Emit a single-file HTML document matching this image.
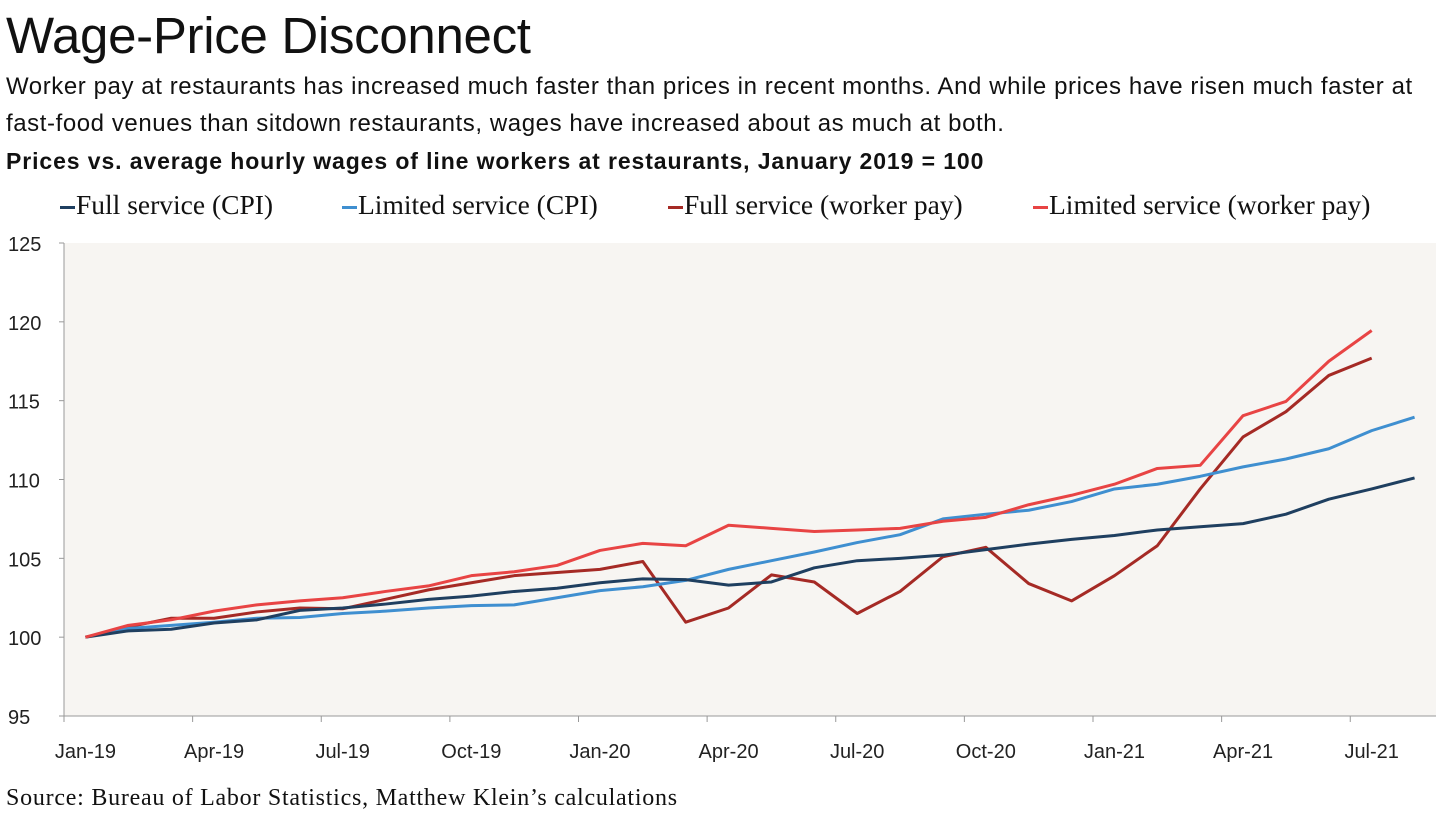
<!DOCTYPE html>
<html><head><meta charset="utf-8"><style>
body{margin:0;width:1456px;height:828px;background:#fff;overflow:hidden;font-family:"Liberation Sans",sans-serif;color:#111}
#title{position:absolute;left:6px;top:6px;font-size:51px;letter-spacing:-0.3px}
#sub{position:absolute;left:6px;top:68px;font-size:24px;line-height:37px;width:1450px;white-space:nowrap;letter-spacing:0.58px}
#ctitle{position:absolute;left:6px;top:148px;font-size:23px;font-weight:bold;letter-spacing:0.9px}
.leg{position:absolute;top:189px;font-family:"Liberation Serif",serif;font-size:27.5px}
.leg span{display:inline-block;width:15px;height:3px;vertical-align:middle;margin-right:1px}
#src{position:absolute;left:6px;top:785px;font-family:"Liberation Serif",serif;font-size:24px;letter-spacing:0.75px}
svg{position:absolute;left:0;top:0}
</style></head><body>
<div id="title">Wage-Price Disconnect</div>
<div id="sub">Worker pay at restaurants has increased much faster than prices in recent months. And while prices have risen much faster at<br>fast-food venues than sitdown restaurants, wages have increased about as much at both.</div>
<div id="ctitle">Prices vs. average hourly wages of line workers at restaurants, January 2019 = 100</div>
<div class="leg" style="left:60px"><span style="background:#1f3f60"></span>Full service (CPI)</div>
<div class="leg" style="left:342px"><span style="background:#3f8fd0"></span>Limited service (CPI)</div>
<div class="leg" style="left:668px"><span style="background:#a52a25"></span>Full service (worker pay)</div>
<div class="leg" style="left:1033px"><span style="background:#e84444"></span>Limited service (worker pay)</div>
<svg id="chart" width="1456" height="828"></svg>
<div id="src">Source: Bureau of Labor Statistics, Matthew Klein’s calculations</div>
<script>
const months=["Jan-19","Feb-19","Mar-19","Apr-19","May-19","Jun-19","Jul-19","Aug-19","Sep-19","Oct-19","Nov-19","Dec-19","Jan-20","Feb-20","Mar-20","Apr-20","May-20","Jun-20","Jul-20","Aug-20","Sep-20","Oct-20","Nov-20","Dec-20","Jan-21","Feb-21","Mar-21","Apr-21","May-21","Jun-21","Jul-21","Aug-21"];
const yTicks=[95,100,105,110,115,120,125];
const fullCPI=[100,100.4,100.5,100.9,101.1,101.7,101.85,102.1,102.4,102.6,102.9,103.1,103.45,103.7,103.65,103.3,103.5,104.4,104.85,105.0,105.2,105.55,105.9,106.2,106.45,106.8,107.0,107.2,107.8,108.75,109.4,110.1];
const limCPI=[100,100.55,100.75,100.95,101.2,101.25,101.5,101.65,101.85,102.0,102.05,102.5,102.95,103.2,103.6,104.3,104.85,105.4,106.0,106.5,107.5,107.8,108.05,108.6,109.4,109.7,110.2,110.8,111.3,111.95,113.1,113.95];
const fullPay=[100,100.65,101.2,101.2,101.6,101.85,101.8,102.4,103.0,103.45,103.9,104.1,104.3,104.8,100.95,101.85,103.95,103.5,101.5,102.9,105.1,105.7,103.4,102.3,103.9,105.8,109.4,112.7,114.3,116.6,117.7];
const limPay=[100,100.75,101.1,101.65,102.05,102.3,102.5,102.9,103.25,103.9,104.15,104.55,105.5,105.95,105.8,107.1,106.9,106.7,106.8,106.9,107.35,107.6,108.4,109.0,109.7,110.7,110.9,114.05,114.95,117.5,119.45];
const L=64,R=1436,T=243,B=716,ymin=95,ymax=125;
const bw=(R-L)/months.length;
const x=i=>L+bw*(i+0.5);
const y=v=>B-(v-ymin)/(ymax-ymin)*(B-T);
const svg=document.getElementById('chart');const NS='http://www.w3.org/2000/svg';
function mk(t,a){const e=document.createElementNS(NS,t);for(const k in a)e.setAttribute(k,a[k]);svg.appendChild(e);return e;}
const bg=mk('rect',{x:L,y:T,width:R-L,height:B-T,fill:'#f7f5f2'});


const ax=mk('line',{x1:L,y1:T,x2:L,y2:B,stroke:'#999','stroke-width':1});


const xa=mk('line',{x1:L,y1:B,x2:R,y2:B,stroke:'#999','stroke-width':1});


yTicks.forEach(v=>{
 const t=mk('line',{x1:L-5,x2:L,y1:y(v),y2:y(v),stroke:'#999'});
 
 
 const tx=mk('text',{x:8,y:y(v)+8,'font-size':20,fill:'#222','font-family':'Liberation Sans, sans-serif'});
 tx.textContent=v;
 
 
});
for(let i=0;i<=months.length;i+=3){
 const xx=L+bw*i;
 const t=mk('line',{x1:xx,x2:xx,y1:B,y2:B+6,stroke:'#999'});
 
 
 if(i<months.length){
 const tx=mk('text',{x:x(i),y:B+42,'font-size':20,fill:'#222','text-anchor':'middle','font-family':'Liberation Sans, sans-serif'});
 tx.textContent=months[i];
 
 }
}
function line(d,c,n){const p=mk('polyline',{points:d.map((v,i)=>x(i)+','+y(v)).join(' '),fill:'none',stroke:c,'stroke-width':3,'stroke-linejoin':'round'});
 
 }
line(fullPay,'#a52a25','line-full-pay');
line(limCPI,'#3f8fd0','line-limited-cpi');
line(fullCPI,'#1f3f60','line-full-cpi');
line(limPay,'#e84444','line-limited-pay');
</script>
</body></html>
